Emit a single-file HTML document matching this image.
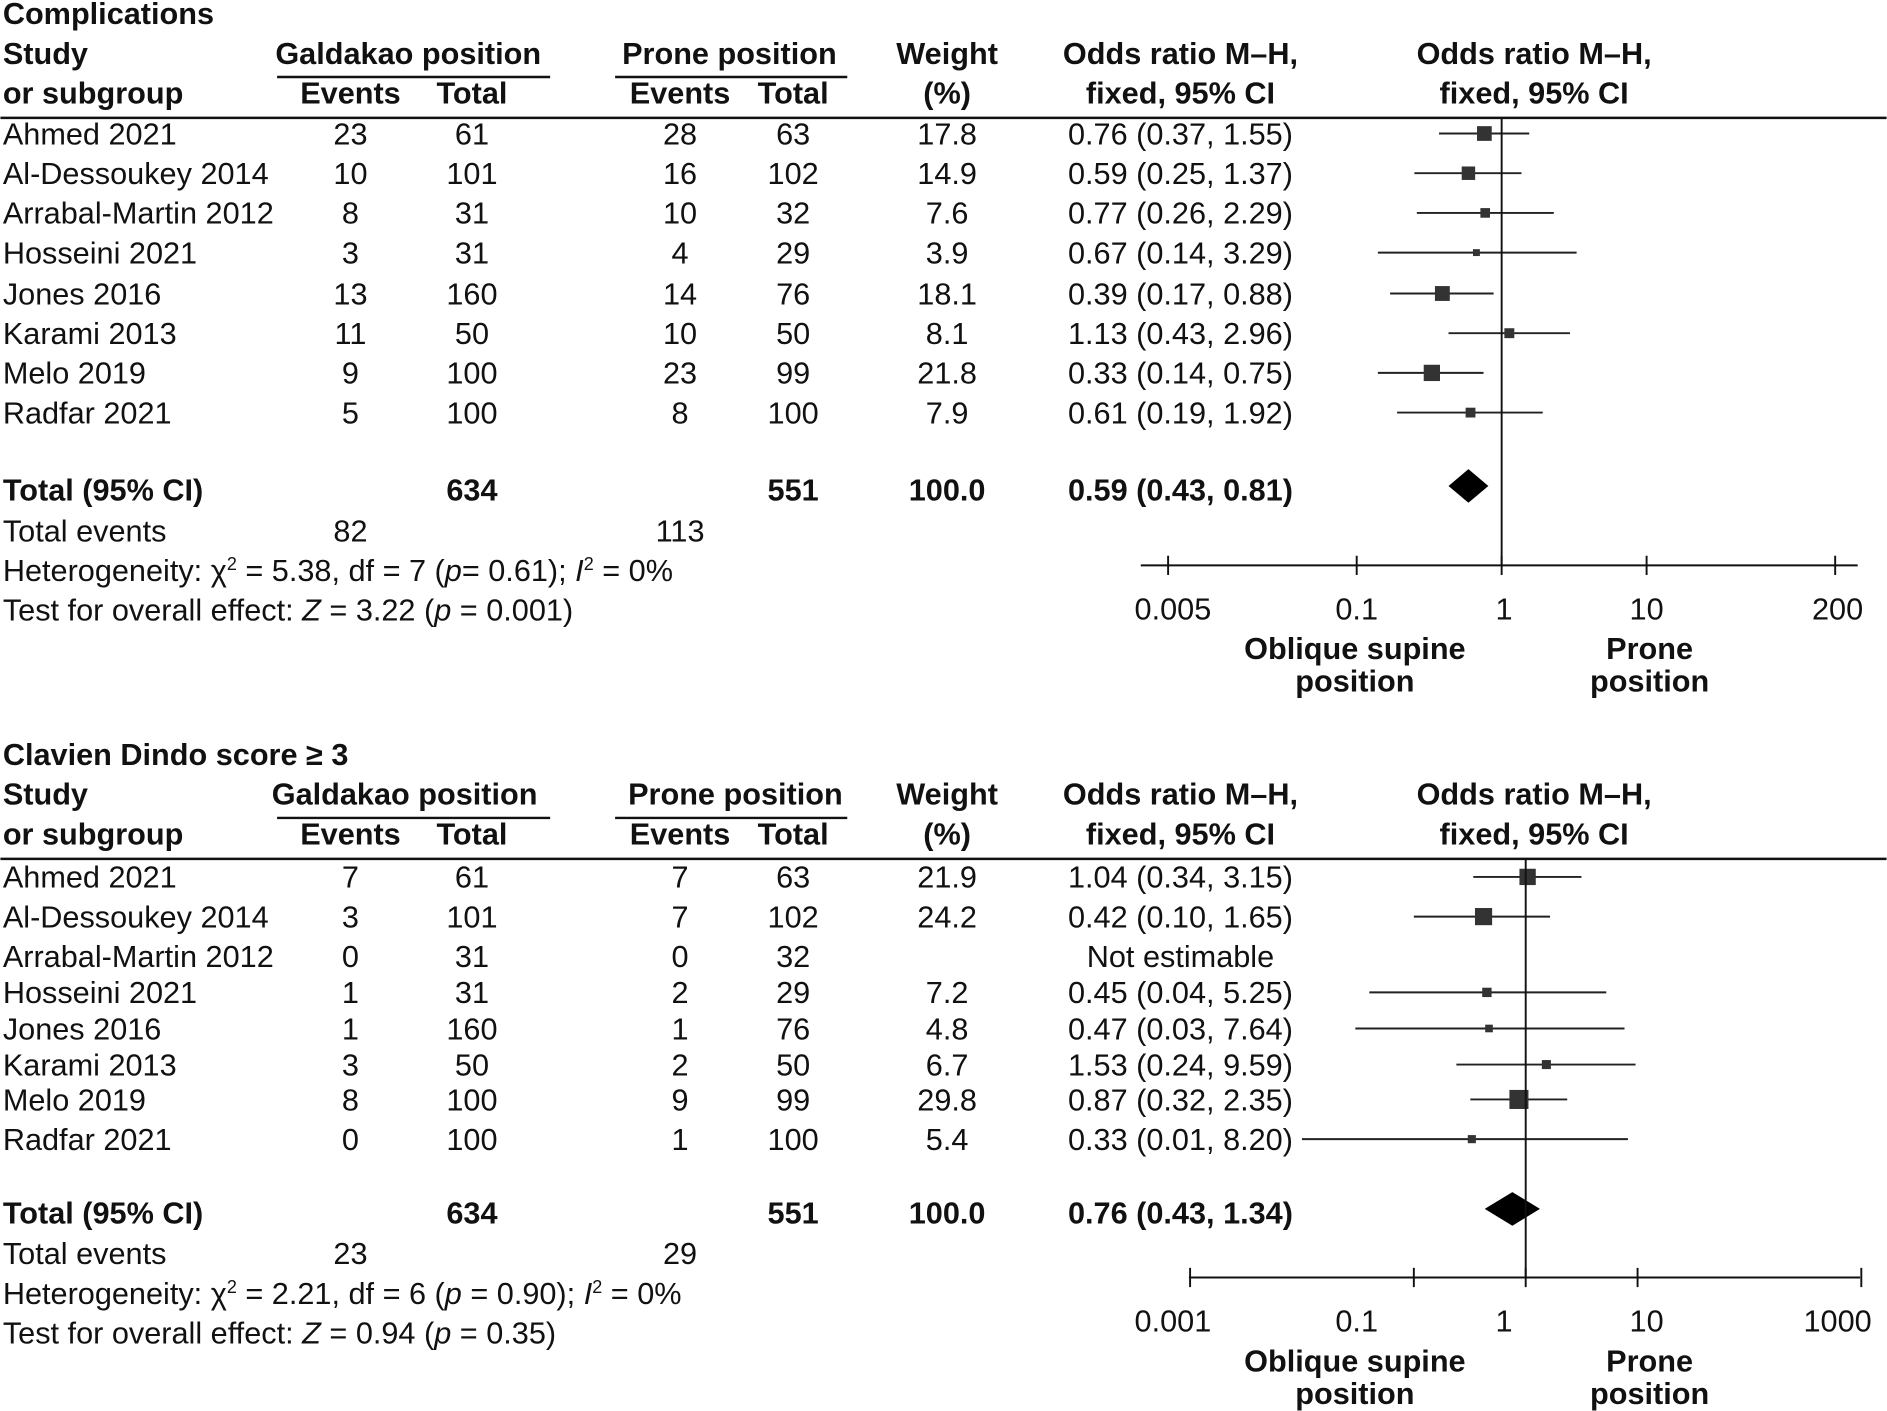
<!DOCTYPE html>
<html><head><meta charset="utf-8"><style>
html,body{margin:0;padding:0;background:#fff;}
svg{display:block;}
text{font-family:"Liberation Sans",sans-serif;font-size:25.5px;fill:#111;}
.b{font-weight:bold;}
.m{text-anchor:middle;}
</style></head><body>
<svg id="fig" width="1887" height="1411" viewBox="0 0 1568 1173" xmlns="http://www.w3.org/2000/svg"></svg>
<script>
// ---- Panel 1: Complications ----
const studies1 = ["Ahmed 2021","Al-Dessoukey 2014","Arrabal-Martin 2012","Hosseini 2021","Jones 2016","Karami 2013","Melo 2019","Radfar 2021"];
const gEvents1 = [23,10,8,3,13,11,9,5];
const gTotal1 = [61,101,31,31,160,50,100,100];
const pEvents1 = [28,16,10,4,14,10,23,8];
const pTotal1 = [63,102,32,29,76,50,99,100];
const weight1 = [17.8,14.9,7.6,3.9,18.1,8.1,21.8,7.9];
const or1 = [0.76,0.59,0.77,0.67,0.39,1.13,0.33,0.61];
const lo1 = [0.37,0.25,0.26,0.14,0.17,0.43,0.14,0.19];
const hi1 = [1.55,1.37,2.29,3.29,0.88,2.96,0.75,1.92];
const total1 = {or:0.59, lo:0.43, hi:0.81};
const ticks1 = [0.005,0.1,1,10,200];
const tickLabels1 = ["0.005","0.1","1","10","200"];

// ---- Panel 2: Clavien Dindo ----
const studies2 = studies1.slice();
const gEvents2 = [7,3,0,1,1,3,8,0];
const gTotal2 = [61,101,31,31,160,50,100,100];
const pEvents2 = [7,7,0,2,1,2,9,1];
const pTotal2 = [63,102,32,29,76,50,99,100];
const weight2 = [21.9,24.2,null,7.2,4.8,6.7,29.8,5.4];
const or2 = [1.04,0.42,null,0.45,0.47,1.53,0.87,0.33];
const lo2 = [0.34,0.10,null,0.04,0.03,0.24,0.32,0.01];
const hi2 = [3.15,1.65,null,5.25,7.64,9.59,2.35,8.20];
const total2 = {or:0.76, lo:0.43, hi:1.34};
const ticks2 = [0.001,0.1,1,10,1000];
const tickLabels2 = ["0.001","0.1","1","10","1000"];

const NS="http://www.w3.org/2000/svg";
const svg=document.getElementById('fig');
function el(tag,attrs,parent){const e=document.createElementNS(NS,tag);for(const k in attrs)e.setAttribute(k,attrs[k]);(parent||svg).appendChild(e);return e;}
function txt(s,x,y,cls,parent){const t=el('text',{x:x,y:y,class:cls||''},parent);t.textContent=s;return t;}
const f2=v=>v.toFixed(2);
const sx1=v=>1248+120.5*Math.log10(v);

function panel(cfg){
  const g=el('g',{});
  
  
  const Y=cfg.y0;
  const sx=v=>cfg.cx+cfg.dec*Math.log10(v);
  let t=txt(cfg.title,2,Y-78,'b',g);
  
  
  txt("Study",2,Y-45,'b',g);txt("or subgroup",2,Y-12,'b',g);
  txt("Galdakao position",cfg.gx,Y-45,'b m',g);
  el('line',{x1:230,x2:457,y1:Y-34,y2:Y-34,stroke:'#111','stroke-width':2},g);
  txt("Events",291,Y-12,'b m',g);txt("Total",392,Y-12,'b m',g);
  txt("Prone position",cfg.px,Y-45,'b m',g);
  el('line',{x1:511,x2:704,y1:Y-34,y2:Y-34,stroke:'#111','stroke-width':2},g);
  txt("Events",565,Y-12,'b m',g);txt("Total",659,Y-12,'b m',g);
  txt("Weight",787,Y-45,'b m',g);txt("(%)",787,Y-12,'b m',g);
  txt("Odds ratio M–H,",981,Y-45,'b m',g);txt("fixed, 95% CI",981,Y-12,'b m',g);
  txt("Odds ratio M–H,",1275,Y-45,'b m',g);txt("fixed, 95% CI",1275,Y-12,'b m',g);
  const hl=el('line',{x1:0,x2:1568,y1:Y,y2:Y,stroke:'#111','stroke-width':2},g);
  
  
  cfg.studies.forEach((s,i)=>{
    const cy=cfg.rowY[i], by=cy+9;
    const r=el('g',{},g);
    
    
    txt(s,2,by,'',r);
    txt(String(cfg.ge[i]),291,by,'m',r);txt(String(cfg.gt[i]),392,by,'m',r);
    txt(String(cfg.pe[i]),565,by,'m',r);txt(String(cfg.pt[i]),659,by,'m',r);
    if(cfg.w[i]==null){txt("Not estimable",981,by,'m',r);return;}
    txt(cfg.w[i].toFixed(1),787,by,'m',r);
    txt(f2(cfg.or[i])+" ("+f2(cfg.lo[i])+", "+f2(cfg.hi[i])+")",981,by,'m',r);
    const ci=el('line',{x1:sx(cfg.lo[i]),x2:sx(cfg.hi[i]),y1:cy,y2:cy,stroke:'#222','stroke-width':1.6},r);
    
    
    const sz=2.9*Math.sqrt(cfg.w[i]);
    const sq=el('rect',{x:sx(cfg.or[i])-sz/2,y:cy-sz/2,width:sz,height:sz,fill:'#333'},r);
    
    
  });
  const ty=cfg.totY, tb=ty+9;
  txt("Total (95% CI)",2,tb,'b',g);
  txt(String(cfg.gt.reduce((a,b)=>a+b,0)),392,tb,'b m',g);
  txt(String(cfg.pt.reduce((a,b)=>a+b,0)),659,tb,'b m',g);
  txt("100.0",787,tb,'b m',g);
  txt(f2(cfg.tot.or)+" ("+f2(cfg.tot.lo)+", "+f2(cfg.tot.hi)+")",981,tb,'b m',g);
  const dy=ty-3, xo=sx(cfg.tot.or);
  const d=el('polygon',{points:`${sx(cfg.tot.lo)},${dy} ${xo},${dy-14} ${sx(cfg.tot.hi)},${dy} ${xo},${dy+14}`,fill:'#000'},g);
  
  
  txt("Total events",2,ty+43,'',g);
  txt(String(cfg.ge.reduce((a,b)=>a+b,0)),291,ty+43,'m',g);
  txt(String(cfg.pe.reduce((a,b)=>a+b,0)),565,ty+43,'m',g);
  const h=txt("",2,ty+76,'',g);h.innerHTML=cfg.het;
  const o=txt("",2,ty+109,'',g);o.innerHTML=cfg.test;
  const ay=cfg.axisY;
  const vl=el('line',{x1:cfg.cx,x2:cfg.cx,y1:Y,y2:ay,stroke:'#111','stroke-width':1.6},g);
  
  
  const ax=el('line',{x1:cfg.ax0,x2:cfg.ax1,y1:ay,y2:ay,stroke:'#111','stroke-width':1.6},g);
  
  
  cfg.ticks.forEach((v,i)=>{
    el('line',{x1:sx(v),x2:sx(v),y1:ay-8,y2:ay+8,stroke:'#111','stroke-width':1.6},g);
    // labels in the source figure sit in fixed columns (same as top panel)
    const lx=sx1(ticks1[i])+(i===0?4:i===4?2:(i===2?2:0));
    const tl=txt(cfg.tickLabels[i],lx,ay+45,'m',g);
    
    
  });
  txt("Oblique supine",1126,ay+78,'b m',g);txt("position",1126,ay+105,'b m',g);
  txt("Prone",1371,ay+78,'b m',g);txt("position",1371,ay+105,'b m',g);
}

panel({name:'complications-panel',title:'Complications',y0:98,gx:339,px:606,
  studies:studies1,ge:gEvents1,gt:gTotal1,pe:pEvents1,pt:pTotal1,w:weight1,or:or1,lo:lo1,hi:hi1,tot:total1,
  rowY:[111,144,177,210,244,277,310,343],totY:407,axisY:470,cx:1248,dec:120.5,ax0:948,ax1:1544,
  ticks:ticks1,tickLabels:tickLabels1,
  het:'Heterogeneity: χ<tspan dy="-9" font-size="15">2</tspan><tspan dy="9"> = 5.38, df = 7 (</tspan><tspan font-style="italic">p</tspan>= 0.61); <tspan font-style="italic">I</tspan><tspan dy="-9" font-size="15">2</tspan><tspan dy="9"> = 0%</tspan>',
  test:'Test for overall effect: <tspan font-style="italic">Z</tspan> = 3.22 (<tspan font-style="italic">p</tspan> = 0.001)'});

panel({name:'clavien-dindo-panel',title:'Clavien Dindo score ≥ 3',y0:714,gx:336,px:611,
  studies:studies2,ge:gEvents2,gt:gTotal2,pe:pEvents2,pt:pTotal2,w:weight2,or:or2,lo:lo2,hi:hi2,tot:total2,
  rowY:[729,762,795,825,855,885,914,947],totY:1008,axisY:1062,cx:1268,dec:93,ax0:988,ax1:1546,
  ticks:ticks2,tickLabels:tickLabels2,
  het:'Heterogeneity: χ<tspan dy="-9" font-size="15">2</tspan><tspan dy="9"> = 2.21, df = 6 (</tspan><tspan font-style="italic">p</tspan> = 0.90); <tspan font-style="italic">I</tspan><tspan dy="-9" font-size="15">2</tspan><tspan dy="9"> = 0%</tspan>',
  test:'Test for overall effect: <tspan font-style="italic">Z</tspan> = 0.94 (<tspan font-style="italic">p</tspan> = 0.35)'});
</script>
</body></html>
